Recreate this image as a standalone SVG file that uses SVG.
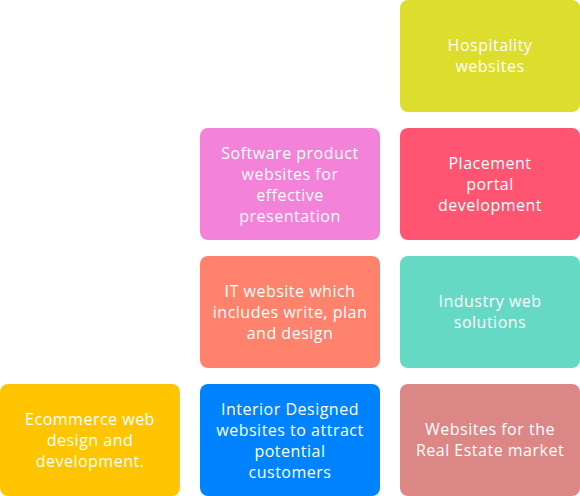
<svg xmlns="http://www.w3.org/2000/svg" width="580" height="496" viewBox="0 0 580 496">
<style>
text{font-family:"Open Sans","DejaVu Sans",sans-serif;font-size:16px;letter-spacing:0.5px;fill:#ffffff;text-anchor:middle}
</style>
<rect width="580" height="496" fill="#ffffff"/>
<g id="hospitality"><rect x="400" y="0" width="180" height="112" rx="8" fill="#DCDD2C"/>
<text x="490" y="51">Hospitality</text><text x="490" y="72">websites</text></g>
<g id="software"><rect x="200" y="128" width="180" height="112" rx="8" fill="#F283D8"/>
<text x="290" y="159">Software product</text><text x="290" y="180">websites for</text><text x="290" y="201">effective</text><text x="290" y="222">presentation</text></g>
<g id="placement"><rect x="400" y="128" width="180" height="112" rx="8" fill="#FF5573"/>
<text x="490" y="169">Placement</text><text x="490" y="190">portal</text><text x="490" y="211">development</text></g>
<g id="it"><rect x="200" y="256" width="180" height="112" rx="8" fill="#FF836C"/>
<text x="290" y="297">IT website which</text><text x="290" y="318">includes write, plan</text><text x="290" y="339">and design</text></g>
<g id="industry"><rect x="400" y="256" width="180" height="112" rx="8" fill="#66D9C5"/>
<text x="490" y="307">Industry web</text><text x="490" y="328">solutions</text></g>
<g id="ecommerce"><rect x="0" y="384" width="180" height="112" rx="8" fill="#FFC600"/>
<text x="90" y="425">Ecommerce web</text><text x="90" y="446">design and</text><text x="90" y="467">development.</text></g>
<g id="interior"><rect x="200" y="384" width="180" height="112" rx="8" fill="#0183FF"/>
<text x="290" y="415">Interior Designed</text><text x="290" y="436">websites to attract</text><text x="290" y="457">potential</text><text x="290" y="478">customers</text></g>
<g id="realestate"><rect x="400" y="384" width="180" height="112" rx="8" fill="#DB8786"/>
<text x="490" y="435">Websites for the</text><text x="490" y="456">Real Estate market</text></g>
<g id="connectors"></g>
</svg>
